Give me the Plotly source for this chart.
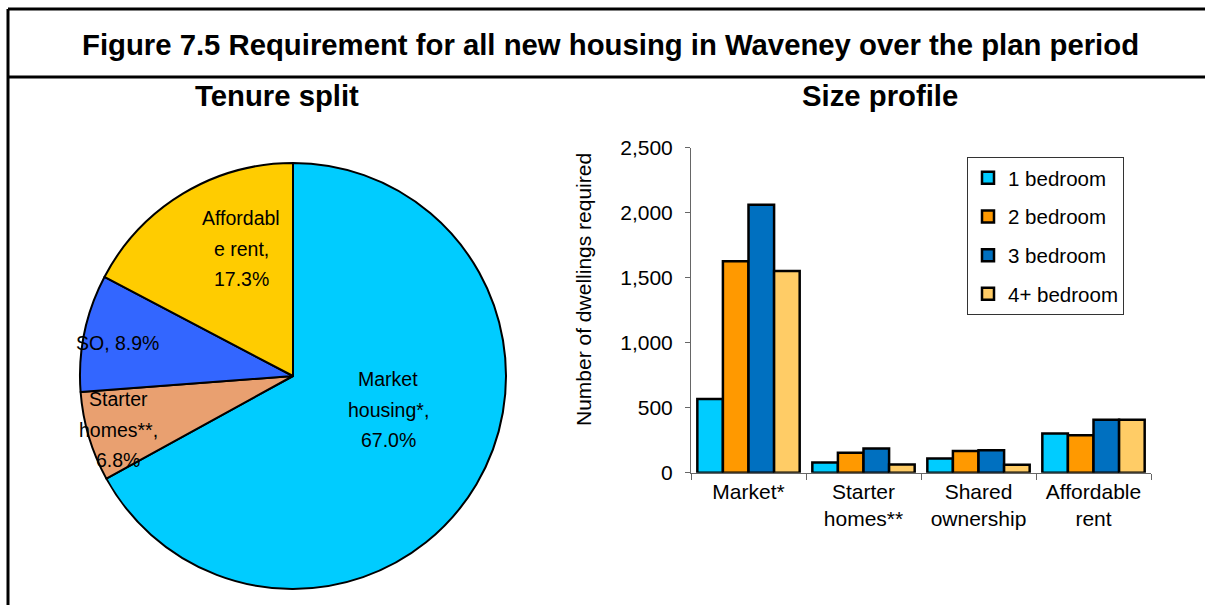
import plotly.graph_objects as go

W, H = 1205, 605

# Tenure split (per cent of all new housing)
tenure_labels = ["Market housing*", "Starter homes**", "SO", "Affordable rent"]
tenure_share = [67.0, 6.8, 8.9, 17.3]
tenure_colors = ["#00CCFF", "#E9A070", "#3366FF", "#FFCC00"]

# Size profile (number of dwellings required)
tenures = ["Market*", "Starter<br>homes**", "Shared<br>ownership", "Affordable<br>rent"]
bed_1 = [567, 79, 110, 301]
bed_2 = [1627, 153, 166, 288]
bed_3 = [2061, 186, 173, 408]
bed_4 = [1551, 64, 61, 408]
size_names = ["1 bedroom", "2 bedroom", "3 bedroom", "4+ bedroom"]
size_colors = ["#00CCFF", "#FF9900", "#0070C0", "#FFCC66"]
y_ticks = [0, 500, 1000, 1500, 2000, 2500]

FONT = "Liberation Sans, Arial, sans-serif"


def fx(px):
    return px / W


def fy(py):
    return 1 - py / H


fig = go.Figure()

# pie: centre (293, 376), radius 213 px
cx, cy, r = 293, 376, 213
fig.add_trace(go.Pie(
    values=tenure_share,
    labels=tenure_labels,
    marker=dict(colors=tenure_colors, line=dict(color="black", width=2)),
    sort=False,
    direction="clockwise",
    rotation=0,
    textinfo="none",
    hoverinfo="label+percent",
    showlegend=False,
    domain=dict(x=[fx(cx - r), fx(cx + r)], y=[fy(cy + r), fy(cy - r)]),
))

bar_series = [bed_1, bed_2, bed_3, bed_4]
for i, (name, vals, col) in enumerate(zip(size_names, bar_series, size_colors)):
    fig.add_trace(go.Bar(
        x=tenures, y=vals, name=name, legendgroup=f"g{i}",
        marker=dict(color=col, line=dict(color="black", width=2.5)),
        xaxis="x", yaxis="y",
    ))

# pie data labels, wrapped the way the label boxes break them
label_lines = [
    ["Market", "housing*,"],
    ["Starter", "homes**,"],
    ["SO, {v}"],
    ["Affordabl", "e rent,"],
]
label_anchor = [(388, 379), (118, 399), (117, 343), (241, 218)]
LINE_STEP = 30.5
for lines, val, (px, py) in zip(label_lines, tenure_share, label_anchor):
    pct = f"{val:.1f}%"
    if "{v}" in lines[0]:
        rows = [lines[0].format(v=pct)]
    else:
        rows = lines + [pct]
    for k, row in enumerate(rows):
        fig.add_annotation(
            x=fx(px), y=fy(py + k * LINE_STEP), xref="paper", yref="paper",
            text=row, showarrow=False,
            font=dict(family=FONT, size=19.5, color="black"),
            xanchor="center", yanchor="middle",
        )

# titles
title_font = dict(family=FONT, size=29.3, color="black")
fig.add_annotation(x=fx(610), y=fy(44), xref="paper", yref="paper",
                   xanchor="center", yanchor="middle",
                   text="<b>Figure 7.5 Requirement for all new housing in Waveney over the plan period</b>",
                   showarrow=False, font=title_font)
fig.add_annotation(x=fx(277), y=fy(96), xref="paper", yref="paper",
                   xanchor="center", yanchor="middle",
                   text="<b>Tenure split</b>", showarrow=False, font=title_font)
fig.add_annotation(x=fx(880), y=fy(96), xref="paper", yref="paper",
                   xanchor="center", yanchor="middle",
                   text="<b>Size profile</b>", showarrow=False, font=title_font)
fig.add_annotation(x=fx(583), y=fy(290), xref="paper", yref="paper",
                   xanchor="center", yanchor="middle",
                   text="Number of dwellings required", textangle=-90,
                   showarrow=False, font=dict(family=FONT, size=21, color="black"))

# frame lines
frame = dict(color="black", width=3)
fig.add_shape(type="line", xref="paper", yref="paper", x0=fx(8), x1=1, y0=fy(9), y1=fy(9), line=frame)
fig.add_shape(type="line", xref="paper", yref="paper", x0=fx(8), x1=1, y0=fy(77), y1=fy(77), line=frame)
fig.add_shape(type="line", xref="paper", yref="paper", x0=fx(8), x1=fx(8), y0=0, y1=fy(9), line=frame)

fig.update_layout(
    width=W, height=H,
    margin=dict(l=0, r=0, t=0, b=0, pad=0, autoexpand=False),
    paper_bgcolor="white", plot_bgcolor="white",
    font=dict(family=FONT, size=21, color="black"),
    barmode="group", bargap=0.11, bargroupgap=0,
    xaxis=dict(
        domain=[fx(691), fx(1151)], anchor="y",
        showline=True, linecolor="#666666", linewidth=1,
        ticks="outside", tickson="boundaries", ticklen=6, tickcolor="#666666",
        tickfont=dict(family=FONT, size=21, color="black"),
        showgrid=False, zeroline=False, automargin=False,
    ),
    yaxis=dict(
        domain=[fy(472.7), fy(147.7)], anchor="x",
        range=[0, 2500], tickvals=y_ticks, tickformat=",",
        showline=True, linecolor="#666666", linewidth=1,
        ticks="outside", ticklen=5, tickcolor="#666666", ticklabelstandoff=8,
        tickfont=dict(family=FONT, size=21, color="black"),
        showgrid=False, zeroline=False, automargin=False,
    ),
    legend=dict(
        x=fx(967), y=fy(157), xanchor="left", yanchor="top",
        bordercolor="#333333", borderwidth=1, bgcolor="white",
        font=dict(family=FONT, size=20.5, color="black"),
        tracegroupgap=9, traceorder="grouped",
    ),
)

fig.write_html("out.html")
